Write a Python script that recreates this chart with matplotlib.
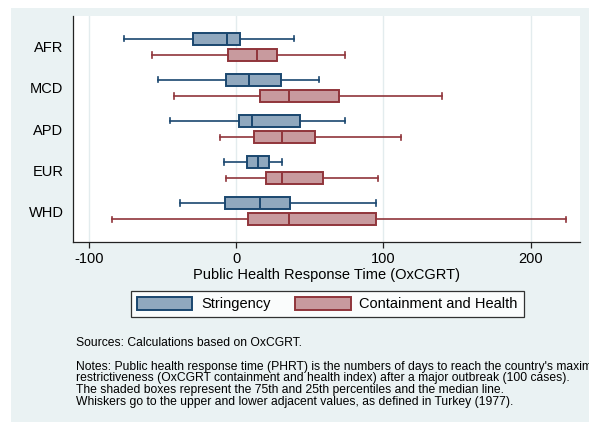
import matplotlib
matplotlib.use("Agg")
import matplotlib.pyplot as plt
from matplotlib.patches import Patch, Rectangle

plt.rcParams['font.family'] = ['Liberation Sans', 'DejaVu Sans']

regions = ["AFR", "MCD", "APD", "EUR", "WHD"]
# Stringency: lower whisker, q1, median, q3, upper whisker
str_lo  = [-76, -53, -45, -8, -38]
str_q1  = [-29, -6.6, 2.3, 7.3, -7.8]
str_med = [-6, 8.7, 10.6, 14.9, 16.1]
str_q3  = [2.7, 30.5, 43.5, 22.7, 36.9]
str_hi  = [39.2, 56.1, 74, 31.2, 95.1]
# Containment and Health
ch_lo  = [-57, -42, -11.2, -7.1, -84.3]
ch_q1  = [-5.7, 16.5, 12.4, 20.6, 8.3]
ch_med = [14.2, 36.2, 31.4, 30.9, 36.2]
ch_q3  = [27.7, 69.9, 53.6, 58.7, 94.9]
ch_hi  = [74, 140, 112.3, 96.5, 224]

series_names = ["Stringency", "Containment and Health"]
xticks = [-100, 0, 100, 200]

BG = "#EAF2F3"
S_FILL, S_EDGE = "#90A8BE", "#1A476F"
C_FILL, C_EDGE = "#C89A9E", "#90353B"

W, H = 589, 422
fig = plt.figure(figsize=(W/100, H/100), dpi=100, facecolor="white")
fig.patches.append(Rectangle((11/W, 0), 1 - 11/W, 1 - 8/H, transform=fig.transFigure,
                             facecolor=BG, edgecolor="none", zorder=-10))

ax = fig.add_axes([73.3/W, 1 - 242/H, (580 - 73.3)/W, (242 - 16)/H])
ax.set_facecolor("white")

def stats(lo, q1, med, q3, hi):
    return [dict(whislo=a, q1=b, med=c, q3=d, whishi=e, fliers=[])
            for a, b, c, d, e in zip(lo, q1, med, q3, hi)]

pos = list(range(1, len(regions) + 1))
off = 0.2
bw = 0.29
for st, p, fill, edge in [
        (stats(str_lo, str_q1, str_med, str_q3, str_hi), [x - off for x in pos], S_FILL, S_EDGE),
        (stats(ch_lo, ch_q1, ch_med, ch_q3, ch_hi), [x + off for x in pos], C_FILL, C_EDGE)]:
    ax.bxp(st, positions=p, vert=False, widths=bw, patch_artist=True, showfliers=False,
           capwidths=0.13,
           boxprops=dict(facecolor=fill, edgecolor=edge, linewidth=1.4),
           medianprops=dict(color=edge, linewidth=1.4),
           whiskerprops=dict(color=edge, linewidth=1.2),
           capprops=dict(color=edge, linewidth=1.2), manage_ticks=False)

ax.set_ylim(5.75, 0.25)
ax.set_yticks(pos)
ax.set_yticklabels(regions)
ax.set_xlim(-110.5, 233.5)
ax.set_xticks(xticks)
ax.set_xticklabels([str(t) for t in xticks])
ax.grid(axis="x", color="#E3ECEE", linewidth=1.0)
ax.set_axisbelow(True)
for s in ["top", "right"]:
    ax.spines[s].set_visible(False)
for s in ["left", "bottom"]:
    ax.spines[s].set_color("#222222")
    ax.spines[s].set_linewidth(0.9)
ax.tick_params(axis="y", length=0, pad=7, labelsize=10.5)
ax.tick_params(axis="x", length=4, width=0.9, color="#222222", pad=3, labelsize=10.5)
ax.set_xlabel("Public Health Response Time (OxCGRT)", fontsize=10.5, labelpad=2)

handles = [Patch(facecolor=S_FILL, edgecolor=S_EDGE, linewidth=1.4),
           Patch(facecolor=C_FILL, edgecolor=C_EDGE, linewidth=1.4)]
leg = fig.legend(handles, series_names, loc="center", bbox_to_anchor=(327.3/W, 1 - 304/H),
                 ncol=2, frameon=True, fancybox=False, fontsize=10.5,
                 handlelength=3.8, handleheight=1.0, handletextpad=0.6, columnspacing=1.7,
                 borderpad=0.4, borderaxespad=0)
leg.get_frame().set_edgecolor("black")
leg.get_frame().set_linewidth(0.9)
leg.get_frame().set_facecolor("white")

fs = 8.7
fig.text(75.9/W, 1 - 343/H, "Sources: Calculations based on OxCGRT.", fontsize=fs, va="center")
notes = ["Notes: Public health response time (PHRT) is the numbers of days to reach the country's maximum",
         "restrictiveness (OxCGRT containment and health index) after a major outbreak (100 cases).",
         "The shaded boxes represent the 75th and 25th percentiles and the median line.",
         "Whiskers go to the upper and lower adjacent values, as defined in Turkey (1977)."]
ys = [367, 378.5, 390, 401.5]
for t, y in zip(notes, ys):
    fig.text(75.9/W, 1 - y/H, t, fontsize=fs, va="center")

fig.savefig("out.png", dpi=100, facecolor=fig.get_facecolor())
